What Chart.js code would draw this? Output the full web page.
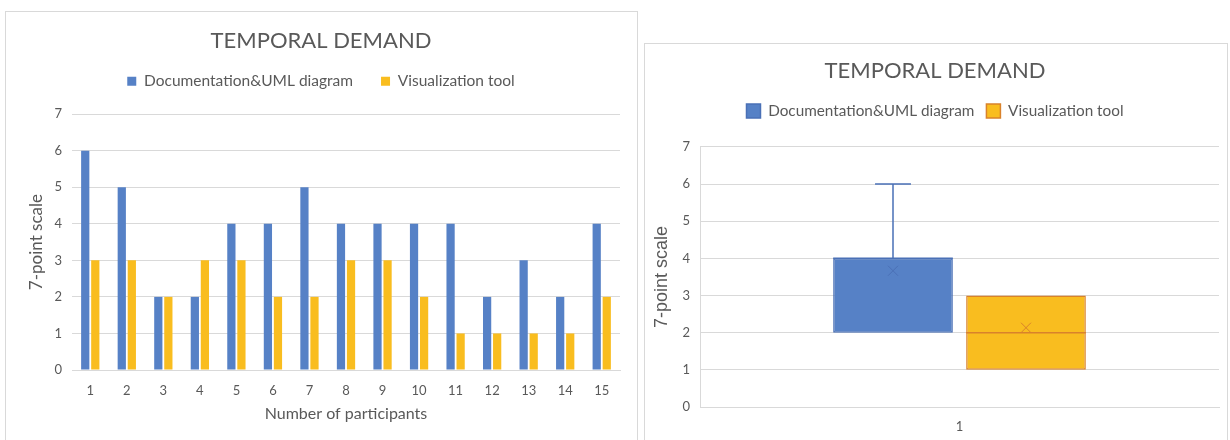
<!DOCTYPE html>
<html>
<head>
<meta charset="utf-8">
<script src="https://cdn.jsdelivr.net/npm/chart.js@4.4.0/dist/chart.umd.min.js"></script>
<style>
  body { margin: 0; background: #fff; width: 1230px; height: 440px; overflow: hidden; position: relative; }
  .panel { position: absolute; border: 1px solid #d9d9d9; background: #fff; }
  #leftPanel { left: 5px; top: 11px; width: 631px; height: 440px; }
  #rightPanel { left: 644px; top: 43px; width: 582px; height: 420px; }
  canvas { display: block; }
</style>
</head>
<body>
<div class="panel" id="leftPanel"><canvas id="barChart" width="631" height="428"></canvas></div>
<div class="panel" id="rightPanel"><canvas id="boxChart" width="582" height="396"></canvas></div>
<script>
// scores per participant (7-point scale)
const participants = ['1','2','3','4','5','6','7','8','9','10','11','12','13','14','15'];
const docScores = [6, 5, 2, 2, 4, 4, 5, 4, 4, 4, 4, 2, 3, 2, 4];
const visScores = [3, 3, 2, 3, 3, 2, 2, 3, 3, 2, 1, 1, 1, 1, 2];
const seriesNames = ['Documentation&UML diagram', 'Visualization tool'];
const boxCategory = ['1'];

const blue = '#5681c6';
const blueEdge = '#4a70b6';
const yellow = '#f9bd1f';
const yellowEdge = '#d9822b';
const textGray = '#595959';
const gridGray = '#d9d9d9';
const font = 'Lato, "Noto Sans", sans-serif';

// quartile, exclusive method (same as the spreadsheet default)
function quartile(arr, q) {
    const s = [...arr].sort((a, b) => a - b);
    const pos = q * (s.length + 1);
    const lo = Math.min(Math.max(Math.floor(pos), 1), s.length);
    const hi = Math.min(lo + 1, s.length);
    return s[lo - 1] + (pos - Math.floor(pos)) * (s[hi - 1] - s[lo - 1]);
}
function boxStats(arr) {
    return {
        min: Math.min(...arr),
        q1: quartile(arr, 0.25),
        median: quartile(arr, 0.5),
        q3: quartile(arr, 0.75),
        max: Math.max(...arr),
        mean: arr.reduce((a, b) => a + b, 0) / arr.length
    };
}
const docBox = boxStats(docScores);
const visBox = boxStats(visScores);

// empty block that sits between the legend and the plot area
function spacer(h) {
    return { display: true, text: '', weight: 500, font: { size: 1 }, padding: { top: h, bottom: 0 } };
}

// ---------- left: scores per participant ----------
new Chart(document.getElementById('barChart'), {
    type: 'bar',
    data: {
        labels: participants,
        datasets: [
            { label: seriesNames[0], data: docScores, backgroundColor: blue, borderWidth: 0 },
            { label: seriesNames[1], data: visScores, backgroundColor: yellow, borderWidth: 0 }
        ]
    },
    options: {
        responsive: false,
        animation: false,
        categoryPercentage: 0.55,
        barPercentage: 0.82,
        layout: { padding: { left: 16, right: 17, top: 0, bottom: 13 } },
        plugins: {
            title: {
                display: true,
                text: 'TEMPORAL DEMAND',
                color: textGray,
                font: { family: font, size: 22, weight: 'normal' },
                padding: { top: 16, bottom: -9 }
            },
            subtitle: spacer(14),
            legend: {
                labels: {
                    color: textGray,
                    font: { family: font, size: 15.5 },
                    boxWidth: 9,
                    boxHeight: 9,
                    padding: 28
                }
            },
            tooltip: { enabled: false }
        },
        scales: {
            x: {
                grid: { display: false },
                border: { color: gridGray },
                ticks: { color: textGray, font: { family: font, size: 13 }, padding: 5 },
                title: { display: true, text: 'Number of participants', color: textGray, font: { family: font, size: 16 }, padding: { top: 4 } },
                afterFit: (scale) => { scale.height = 57; }
            },
            y: {
                min: 0,
                max: 7,
                ticks: { stepSize: 1, color: textGray, font: { family: font, size: 13 }, padding: 10 },
                grid: { color: gridGray, drawTicks: false },
                border: { display: false },
                title: { display: true, text: '7-point scale', color: textGray, font: { family: font, size: 17 } },
                afterFit: (scale) => { scale.width = 50; }
            }
        }
    }
});

// ---------- right: box and whisker ----------
const boxData = [docBox, visBox];

const boxPlugin = {
    id: 'boxWhisker',
    afterDatasetsDraw(chart) {
        const ctx = chart.ctx;
        const y = chart.scales.y;
        chart.data.datasets.forEach((ds, i) => {
            const bar = chart.getDatasetMeta(i).data[0];
            const st = boxData[i];
            const cx = bar.x;
            const half = bar.width / 2;
            const cap = bar.width * 0.15;
            ctx.save();
            ctx.strokeStyle = ds.borderColor;
            ctx.lineWidth = 1.5;
            // whiskers
            [[st.q3, st.max], [st.q1, st.min]].forEach(([from, to]) => {
                if (from === to) return;
                ctx.beginPath();
                ctx.moveTo(cx, y.getPixelForValue(from));
                ctx.lineTo(cx, y.getPixelForValue(to));
                ctx.moveTo(cx - cap, y.getPixelForValue(to));
                ctx.lineTo(cx + cap, y.getPixelForValue(to));
                ctx.stroke();
            });
            // median
            const my = y.getPixelForValue(st.median);
            ctx.beginPath();
            ctx.moveTo(cx - half, my);
            ctx.lineTo(cx + half, my);
            ctx.stroke();
            // mean marker
            const ay = y.getPixelForValue(st.mean);
            ctx.lineWidth = 1;
            ctx.beginPath();
            ctx.moveTo(cx - 5, ay - 5);
            ctx.lineTo(cx + 5, ay + 5);
            ctx.moveTo(cx + 5, ay - 5);
            ctx.lineTo(cx - 5, ay + 5);
            ctx.stroke();
            ctx.restore();
        });
    }
};

new Chart(document.getElementById('boxChart'), {
    type: 'bar',
    data: {
        labels: boxCategory,
        datasets: [
            { label: seriesNames[0], data: [[docBox.q1, docBox.q3]], backgroundColor: blue, borderColor: blueEdge, borderWidth: 1.5, borderSkipped: false },
            { label: seriesNames[1], data: [[visBox.q1, visBox.q3]], backgroundColor: yellow, borderColor: yellowEdge, borderWidth: 1.5, borderSkipped: false }
        ]
    },
    options: {
        responsive: false,
        animation: false,
        categoryPercentage: 0.5125,
        barPercentage: 0.9,
        layout: { padding: { left: 6, right: 8, top: 0, bottom: 0 } },
        plugins: {
            title: {
                display: true,
                text: 'TEMPORAL DEMAND',
                color: textGray,
                font: { family: font, size: 22, weight: 'normal' },
                padding: { top: 14, bottom: 7 }
            },
            subtitle: spacer(17),
            legend: {
                labels: {
                    color: textGray,
                    font: { family: font, size: 15.3 },
                    boxWidth: 14,
                    boxHeight: 14,
                    padding: 12
                }
            },
            tooltip: { enabled: false }
        },
        scales: {
            x: {
                grid: { display: false },
                border: { color: gridGray },
                ticks: { color: textGray, font: { family: font, size: 13 }, padding: 4 },
                afterFit: (scale) => { scale.height = 33; }
            },
            y: {
                min: 0,
                max: 7,
                ticks: { stepSize: 1, color: textGray, font: { family: font, size: 13 }, padding: 10 },
                grid: { color: gridGray, drawTicks: false },
                border: { color: gridGray },
                title: { display: true, text: '7-point scale', color: textGray, font: { family: '"Liberation Sans", Arial, sans-serif', size: 18 }, padding: { top: 0, bottom: 4 } },
                afterFit: (scale) => { scale.width = 49; }
            }
        }
    },
    plugins: [boxPlugin]
});
</script>
</body>
</html>
